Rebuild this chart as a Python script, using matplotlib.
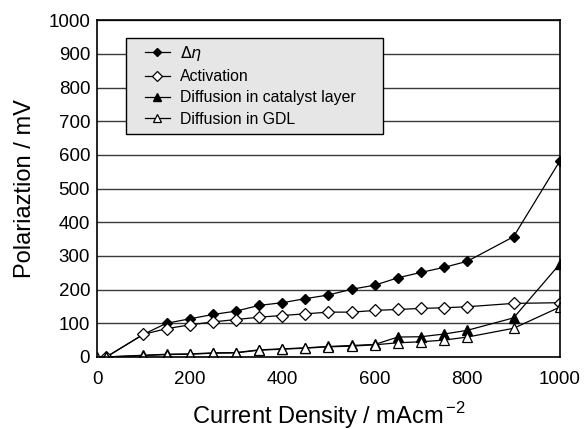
import matplotlib.pyplot as plt
from matplotlib.patches import Rectangle
import numpy as np

plt.rcParams['font.family'] = ['Liberation Sans', 'DejaVu Sans']

# current density (mA cm^-2)
x = [20, 100, 150, 200, 250, 300, 350, 400, 450, 500, 550, 600, 650, 700, 750, 800, 900, 1000]
x_gdl = [0] + x

# polarization components (mV)
delta_eta = [0, 67, 100, 113, 126, 136, 153, 161, 173, 184, 201, 213, 235, 251, 266, 284, 357, 582]
activation = [0, 67, 84, 95, 104, 111, 118, 123, 128, 133, 133, 138, 141, 144, 146, 149, 159, 161]
catalyst = [0, 5, 8, 9, 12, 13, 21, 24, 27, 31, 34, 37, 59, 60, 68, 79, 116, 276]
gdl = [0, 0, 4, 7, 8, 11, 12, 20, 23, 26, 30, 32, 36, 42, 45, 50, 59, 85, 148]

fig, ax = plt.subplots(figsize=(5.85, 4.29), dpi=100)
fig.subplots_adjust(left=0.166, right=0.957, bottom=0.168, top=0.953)

ax.yaxis.grid(True, color='#3a3a3a', linewidth=1.0)
ax.set_axisbelow(True)

lw = 0.9
ax.plot(x, delta_eta, color='black', lw=lw, marker='D', ms=5,
        mfc='black', mec='black', label=r'$\mathit{\Delta\eta}$')
ax.plot(x, activation, color='black', lw=lw, marker='D', ms=6,
        mfc='white', mec='black', mew=0.9, label='Activation')
ax.plot(x, catalyst, color='black', lw=lw, marker='^', ms=6.5,
        mfc='black', mec='black', label='Diffusion in catalyst layer')
ax.plot(x_gdl, gdl, color='black', lw=lw, marker='^', ms=6.5,
        mfc='white', mec='black', mew=0.9, label='Diffusion in GDL')

ax.set_xlim(0, 1000)
ax.set_ylim(0, 1000)
ax.set_xticks(np.arange(0, 1001, 200))
ax.set_yticks(np.arange(0, 1001, 100))
ax.tick_params(axis='both', length=0, labelsize=13.5)
ax.tick_params(axis='x', pad=10)
ax.tick_params(axis='y', pad=5)

for s in ax.spines.values():
    s.set_color('black')
    s.set_linewidth(1.2)

ax.set_xlabel(r'Current Density / mAcm$^{\,\mathregular{-2}}$', fontsize=17, labelpad=8.5)
ax.set_ylabel('Polariaztion / mV', fontsize=17, labelpad=9)

# grey legend box, drawn separately so the entries can sit with a wide right margin
ax.add_patch(Rectangle((0.063, 0.662), 0.555, 0.285, transform=ax.transAxes,
                       facecolor='#e6e6e6', edgecolor='black', lw=1.0, zorder=4))
leg = ax.legend(loc='upper left', bbox_to_anchor=(0.103, 0.93), fontsize=11.4,
                frameon=False, borderpad=0, handlelength=1.6, handletextpad=0.65,
                labelspacing=0.4, borderaxespad=0, markerscale=0.85)
leg.set_zorder(5)

fig.savefig('out.png', dpi=100)
